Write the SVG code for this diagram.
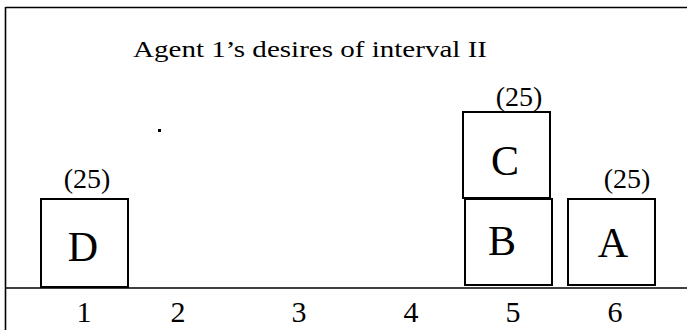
<svg xmlns="http://www.w3.org/2000/svg" width="687" height="330" viewBox="0 0 687 330">
<style>
.box{fill:#fff;stroke:#000;stroke-width:2}
.ln{stroke:#000;stroke-width:1.6;fill:none}
</style>
<rect width="687" height="330" fill="#fff"/>
<g id="frame">
<line class="ln" x1="5.5" y1="7.5" x2="687" y2="7.5"/>
<line class="ln" x1="5.5" y1="7" x2="5.5" y2="330"/>
</g>
<g font-family="Liberation Serif, Times New Roman, serif" fill="#000">
<text x="133" y="57" font-size="23" textLength="354" lengthAdjust="spacingAndGlyphs">Agent 1’s desires of interval II</text>
<rect x="158" y="129" width="3" height="3" fill="#000"/>
<g id="connectors">
<line class="ln" x1="5" y1="288" x2="687" y2="288"/>
</g>
<g id="nodeD">
<rect class="box" x="41" y="199" width="87" height="88"/>
<text font-size="42" text-anchor="middle" x="83" y="261">D</text>
<text font-size="28" text-anchor="middle" x="87" y="188">(25)</text>
</g>
<g id="nodeC">
<rect class="box" x="463" y="112" width="87" height="86"/>
<text font-size="42" text-anchor="middle" x="505" y="175">C</text>
<text font-size="28" text-anchor="middle" x="519" y="106">(25)</text>
</g>
<g id="nodeB">
<rect class="box" x="465" y="199" width="87" height="86"/>
<text font-size="42" text-anchor="middle" x="502" y="255">B</text>
</g>
<g id="nodeA">
<rect class="box" x="568" y="199" width="87" height="86"/>
<text font-size="42" text-anchor="middle" x="613" y="257">A</text>
<text font-size="28" text-anchor="middle" x="627" y="188">(25)</text>
</g>
<g id="axis" font-size="30" text-anchor="middle">
<text x="84" y="322">1</text>
<text x="178" y="322">2</text>
<text x="299" y="322">3</text>
<text x="411" y="322">4</text>
<text x="513" y="322">5</text>
<text x="615" y="322">6</text>
</g>
</g>
</svg>
